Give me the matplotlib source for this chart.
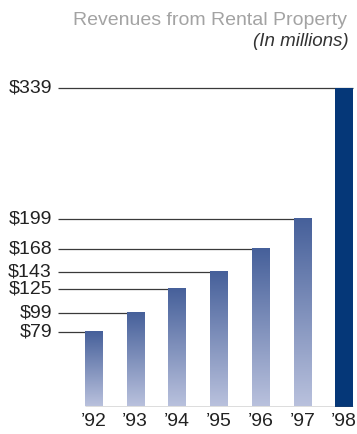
import numpy as np
import matplotlib
matplotlib.use('Agg')
import matplotlib.pyplot as plt
from matplotlib.colors import LinearSegmentedColormap

years = ['\u201992', '\u201993', '\u201994', '\u201995', '\u201996', '\u201997', '\u201998']
revenues = [79, 99, 125, 143, 168, 199, 339]
value_labels = ['$79', '$99', '$125', '$143', '$168', '$199', '$339']

plt.rcParams['font.family'] = ['Liberation Sans', 'DejaVu Sans']

W, H = 357, 434
fig = plt.figure(figsize=(W / 100, H / 100), dpi=100)
ax = fig.add_axes([58 / W, 27.5 / H, 299 / W, 338.4 / H])
ax.set_xlim(-0.845, 6.31)
ax.set_ylim(0, 360)
ax.axis('off')

bar_w = 0.41
grad = LinearSegmentedColormap.from_list('g', ['#b9c1dd', '#46609a'])
ramp = np.linspace(0, 1, 256).reshape(-1, 1)

for i, v in enumerate(revenues):
    x0, x1 = i - bar_w / 2, i + bar_w / 2
    # leader line from the value label to the bar top
    ax.hlines(v, -0.845, x1, color='#3a3a3a', lw=0.9, zorder=1)
    if i == len(revenues) - 1:
        ax.bar(i, v, width=bar_w, color='#053778', zorder=2)
    else:
        ax.imshow(ramp, cmap=grad, origin='lower', aspect='auto',
                  extent=[x0, x1, 0, v], zorder=2, interpolation='bilinear')
    ax.text(-0.99, v, value_labels[i], ha='right', va='center',
            fontsize=14, color='#222222', clip_on=False)
    ax.text(i, -16, years[i], ha='center', va='center',
            fontsize=14, color='#222222', clip_on=False)

ax.hlines(0, -bar_w / 2, 6 + bar_w / 2, color='#555555', lw=1, zorder=3)
ax.set_xlim(-0.845, 6.31)
ax.set_ylim(0, 360)

fig.text(347 / W, 1 - 25 / H, 'Revenues from Rental Property', ha='right',
         va='baseline', fontsize=14, color='#a3a3a3')
fig.text(349 / W, 1 - 42 / H, '(In millions)', ha='right', va='center',
         fontsize=13.5, style='italic', color='#333333')

fig.savefig('out.png', dpi=100)
